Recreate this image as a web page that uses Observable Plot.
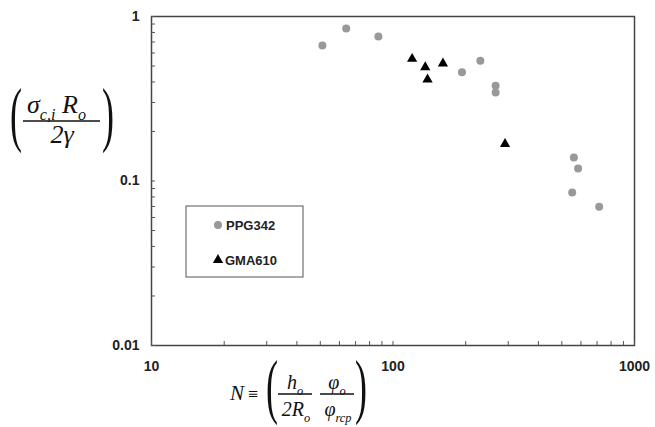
<!DOCTYPE html>
<html><head><meta charset="utf-8">
<script src="https://cdn.jsdelivr.net/npm/d3@7"></script>
<script src="https://cdn.jsdelivr.net/npm/@observablehq/plot@0.6"></script>
<style>html,body{margin:0;padding:0;background:#fff}#chart{width:655px;height:427px}</style>
</head><body><div id="chart"></div>
<script>
// Data
const seriesNames = ["PPG342", "GMA610"];
const ppgN = [51, 64, 87, 193, 230, 266, 266, 561, 584, 552, 714];
const ppgS = [0.666, 0.846, 0.756, 0.459, 0.538, 0.379, 0.345, 0.139, 0.119, 0.085, 0.0697];
const gmaN = [120, 136, 139, 161, 291];
const gmaS = [0.553, 0.492, 0.414, 0.518, 0.168];
const xTicks = [10, 20, 30, 40, 50, 60, 70, 80, 90, 100, 200, 300, 400, 500, 600, 700, 800, 900, 1000];
const yTicks = [0.01, 0.02, 0.03, 0.04, 0.05, 0.06, 0.07, 0.08, 0.09, 0.1, 0.2, 0.3, 0.4, 0.5, 0.6, 0.7, 0.8, 0.9, 1];
const xLabels = [10, 100, 1000];
const yLabels = [0.01, 0.1, 1];

const ppg = ppgN.map((n, i) => ({n, s: ppgS[i], series: seriesNames[0]}));
const gma = gmaN.map((n, i) => ({n, s: gmaS[i], series: seriesNames[1]}));

const W = 655, H = 427, ML = 151, MR = 21, MT = 16, MB = 82, TICK = 4;
const plotW = W - ML - MR, plotH = H - MT - MB;

const plot = Plot.plot({
  width: W, height: H,
  marginLeft: ML, marginRight: MR, marginTop: MT, marginBottom: MB,
  style: {fontFamily: "'Liberation Sans', Arial, sans-serif", fontSize: "14px", fontWeight: "bold", color: "#222", background: "#fff"},
  x: {type: "log", domain: [10, 1000], label: null},
  y: {type: "log", domain: [0.01, 1], label: null},
  marks: [
    Plot.frame({stroke: "#444", strokeWidth: 1.5}),
    // inward tick marks
    Plot.tickX(xTicks, {x: d => d, insetTop: plotH - TICK, stroke: "#555", strokeWidth: 1}),
    Plot.tickY(yTicks, {y: d => d, insetRight: plotW - TICK, stroke: "#555", strokeWidth: 1}),
    // tick labels
    Plot.axisX(xLabels, {anchor: "bottom", tickSize: 0, tickPadding: 16, tickFormat: d => String(d), label: null}),
    Plot.axisY(yLabels, {anchor: "left", tickSize: 0, tickPadding: 12, tickFormat: d => String(d), label: null}),
    Plot.dot(ppg, {x: "n", y: "s", r: 4, fill: "#999", stroke: "none"}),
    Plot.dot(gma, {x: "n", y: "s", r: 3.8, symbol: "triangle", fill: "#000", stroke: "none"})
  ]
});
document.getElementById("chart").appendChild(plot);

const svg = d3.select(plot);
const serif = "'Liberation Serif','Times New Roman',serif";

function math(g, x, y, parts, fs, anchor = "start") {
  const t = g.append("text").attr("x", x).attr("y", y).attr("font-size", fs)
    .attr("text-anchor", anchor).attr("font-family", serif).attr("font-style", "italic")
    .attr("font-weight", "normal").attr("fill", "#111");
  let shift = 0;
  for (const [s, sub] of parts) {
    const target = sub ? fs * 0.28 : 0;
    t.append("tspan").attr("dy", target - shift).attr("font-size", sub ? fs * 0.62 : fs).text(s);
    shift = target;
  }
  return t;
}
function paren(g, x, y, ch, fs, sy) {
  g.append("text").attr("transform", `translate(${x},${y}) scale(1,${sy})`)
    .attr("text-anchor", "start")
    .attr("font-size", fs).attr("font-family", serif).attr("font-weight", "normal")
    .attr("fill", "#111").text(ch);
}
function rule(g, x1, x2, y) {
  g.append("line").attr("x1", x1).attr("x2", x2).attr("y1", y).attr("y2", y)
    .attr("stroke", "#111").attr("stroke-width", 1.4);
}

// Y-axis label
const gy = svg.append("g");
paren(gy, 10, 138, "(", 36, 2.0);
paren(gy, 102, 138, ")", 36, 2.0);
math(gy, 27, 113, [["σ", false], ["c,i", true], ["\u00a0R", false], ["o", true]], 26);
rule(gy, 23, 100, 121);
math(gy, 62, 143, [["2γ", false]], 26, "middle");

// X-axis label
const gx = svg.append("g");
math(gx, 230, 400, [["N", false]], 21);
gx.append("text").attr("x", 248).attr("y", 400).attr("font-size", 18).attr("text-anchor", "start")
  .attr("font-family", serif).attr("font-weight", "normal").attr("fill", "#111").text("≡");
paren(gx, 266, 410, "(", 36, 2.0);
math(gx, 295, 389, [["h", false], ["o", true]], 20, "middle");
rule(gx, 278, 312, 394);
math(gx, 296, 416, [["2R", false], ["o", true]], 20, "middle");
math(gx, 337, 389, [["φ", false], ["o", true]], 20, "middle");
rule(gx, 320, 354, 394);
math(gx, 338, 416, [["φ", false], ["rcp", true]], 20, "middle");
paren(gx, 355, 410, ")", 36, 2.0);

// Legend
const lg = svg.append("g");
lg.append("rect").attr("x", 186).attr("y", 206).attr("width", 117).attr("height", 71)
  .attr("fill", "#fff").attr("stroke", "#555").attr("stroke-width", 1);
lg.append("circle").attr("cx", 218).attr("cy", 225).attr("r", 4).attr("fill", "#999");
lg.append("path").attr("transform", "translate(218,260)")
  .attr("d", d3.symbol(d3.symbolTriangle, Math.PI * 3.8 * 3.8)()).attr("fill", "#000");
lg.append("text").attr("x", 226).attr("y", 230).attr("font-size", 13).attr("text-anchor", "start").attr("fill", "#222").text(seriesNames[0]);
lg.append("text").attr("x", 225).attr("y", 265).attr("font-size", 13).attr("text-anchor", "start").attr("fill", "#222").text(seriesNames[1]);
</script>
</body></html>
